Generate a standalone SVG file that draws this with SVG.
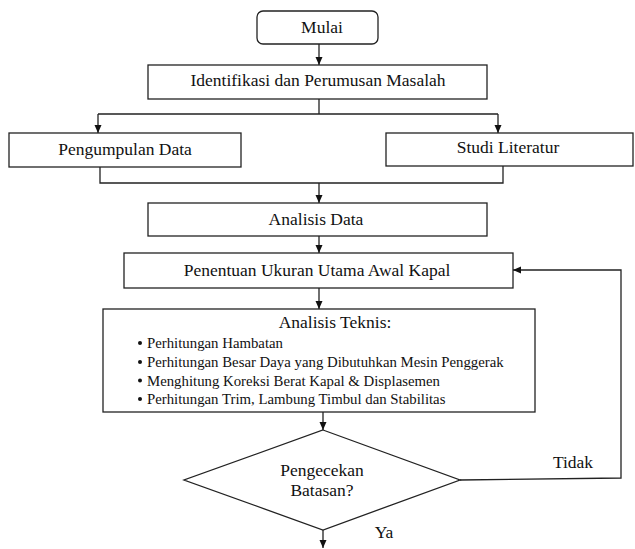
<svg xmlns="http://www.w3.org/2000/svg" width="635" height="549" viewBox="0 0 635 549">
<defs>
<marker id="arr" markerUnits="userSpaceOnUse" markerWidth="9" markerHeight="8" refX="8" refY="3.5" orient="auto">
<path d="M0,0 L8,3.5 L0,7 z" fill="#111"/>
</marker>
<style>
.box{fill:#fff;stroke:#222;stroke-width:1.3}
.ln{fill:none;stroke:#222;stroke-width:1.3}
.t{font-family:"Liberation Serif","Times New Roman",serif;font-size:17.5px;fill:#111;text-anchor:middle}
.b{font-family:"Liberation Serif","Times New Roman",serif;font-size:14.8px;fill:#111}
</style>
</defs>
<rect width="635" height="549" fill="#fff"/>
<g id="connectors">
<path class="ln" d="M319,44 V65" marker-end="url(#arr)"/>
<path class="ln" d="M319,99 V114 M98,114 H498"/>
<path class="ln" d="M98,114 V133" marker-end="url(#arr)"/>
<path class="ln" d="M498,114 V133" marker-end="url(#arr)"/>
<path class="ln" d="M100,167 V183 H503 V166"/>
<path class="ln" d="M319,183 V203" marker-end="url(#arr)"/>
<path class="ln" d="M319,236 V253" marker-end="url(#arr)"/>
<path class="ln" d="M319,288 V309" marker-end="url(#arr)"/>
<path class="ln" d="M323,412 V430" marker-end="url(#arr)"/>
<path class="ln" d="M460,480 L621,478 V270 H513" marker-end="url(#arr)"/>
<path class="ln" d="M323,530 V548" marker-end="url(#arr)"/>
</g>
<g id="mulai">
<rect class="box" x="257" y="11" width="121" height="33" rx="6"/>
<text class="t" x="322" y="33">Mulai</text>
</g>
<g id="identifikasi">
<rect class="box" x="148" y="65" width="339" height="34"/>
<text class="t" x="318" y="86">Identifikasi dan Perumusan Masalah</text>
</g>
<g id="pengumpulan">
<rect class="box" x="9" y="133" width="232" height="34"/>
<text class="t" x="125" y="155">Pengumpulan Data</text>
</g>
<g id="studi">
<rect class="box" x="386" y="133" width="247" height="33"/>
<text class="t" x="508" y="153">Studi Literatur</text>
</g>
<g id="analisis-data">
<rect class="box" x="148" y="203" width="339" height="33"/>
<text class="t" x="316" y="225">Analisis Data</text>
</g>
<g id="penentuan">
<rect class="box" x="124" y="253" width="389" height="35"/>
<text class="t" x="317" y="276">Penentuan Ukuran Utama Awal Kapal</text>
</g>
<g id="analisis-teknis">
<rect class="box" x="103" y="309" width="432" height="103"/>
<text class="t" x="335" y="328">Analisis Teknis:</text>
<circle cx="140" cy="343" r="2" fill="#111"/>
<circle cx="140" cy="362" r="2" fill="#111"/>
<circle cx="140" cy="380.5" r="2" fill="#111"/>
<circle cx="140" cy="399" r="2" fill="#111"/>
<text class="b" x="147" y="348">Perhitungan Hambatan</text>
<text class="b" x="147" y="367">Perhitungan Besar Daya yang Dibutuhkan Mesin Penggerak</text>
<text class="b" x="147" y="385.5">Menghitung Koreksi Berat Kapal &amp; Displasemen</text>
<text class="b" x="147" y="404">Perhitungan Trim, Lambung Timbul dan Stabilitas</text>
</g>
<g id="pengecekan">
<polygon class="box" points="323,430 460,480 323,530 184,480"/>
<text class="t" x="322" y="476">Pengecekan</text>
<text class="t" x="322" y="496">Batasan?</text>
</g>
<g id="labels">
<text class="t" x="573" y="468">Tidak</text>
<text class="t" x="384" y="538">Ya</text>
</g>
</svg>
